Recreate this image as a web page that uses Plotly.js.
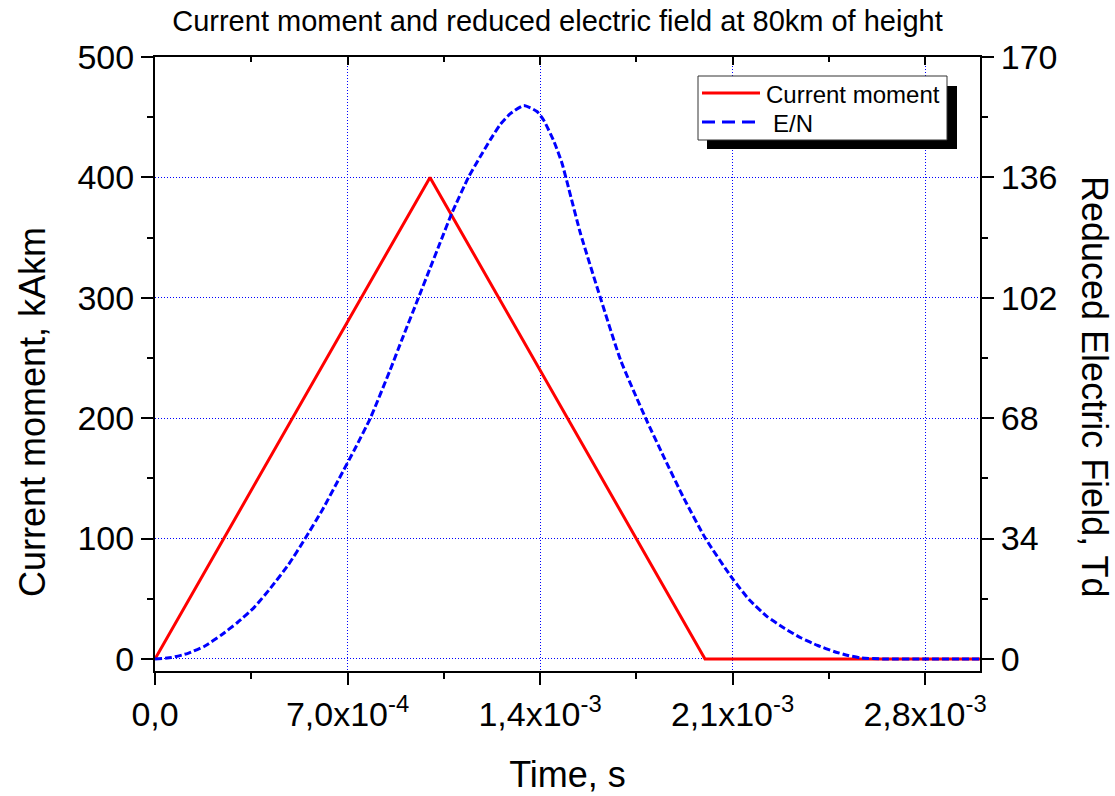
<!DOCTYPE html>
<html>
<head>
<meta charset="utf-8">
<script src="https://cdn.plot.ly/plotly-3.0.1.min.js"></script>
<style>html,body{margin:0;padding:0;background:#fff;}#chart{width:1115px;height:796px;}</style>
</head>
<body>
<div id="chart"></div>
<script>
// Current moment (kAkm) vs time (s)
const currentTime = [0, 1.0e-3, 2.0e-3, 3.0e-3];
const currentMoment = [0, 400, 0, 0];

// Reduced electric field E/N (Td) vs time (s)
const enTime = [0, 0.6e-4, 1.2e-4, 1.8e-4, 2.4e-4, 3.0e-4, 3.6e-4, 4.2e-4, 4.85e-4, 5.46e-4, 6.1e-4, 6.7e-4,
  7.3e-4, 7.83e-4, 8.55e-4, 9.0e-4, 9.58e-4, 1.0e-3, 1.037e-3, 1.08e-3, 1.141e-3, 1.183e-3, 1.219e-3, 1.256e-3,
  1.292e-3, 1.341e-3, 1.389e-3, 1.413e-3, 1.45e-3, 1.48e-3, 1.504e-3, 1.547e-3, 1.62e-3, 1.693e-3, 1.784e-3,
  1.85e-3, 1.923e-3, 2.002e-3, 2.099e-3, 2.16e-3, 2.227e-3, 2.29e-3, 2.348e-3, 2.41e-3, 2.469e-3, 2.52e-3, 2.566e-3,
  2.65e-3, 2.8e-3, 3.0e-3];
const enValues = [0, 0.4, 1.6, 3.6, 6.7, 10.3, 14.5, 20.0, 26.6, 34.0, 42.3, 51.0,
  59.8, 68.0, 81.6, 90.6, 102.0, 110.3, 117.6, 126.0, 136.2, 141.9, 146.6, 151.0,
  154.0, 156.3, 154.6, 152.2, 146.3, 140.0, 133.0, 120.2, 101.9, 84.4, 68.0,
  57.1, 45.4, 34.0, 22.8, 16.8, 11.9, 8.6, 6.0, 3.8, 2.1, 1.0, 0.3,
  0, 0, 0];

// Axis ticks
const xTickVals = [0, 7.0e-4, 1.4e-3, 2.1e-3, 2.8e-3];
const xTickText = ['0,0', '7,0x10<sup>-4</sup>', '1,4x10<sup>-3</sup>', '2,1x10<sup>-3</sup>', '2,8x10<sup>-3</sup>'];
const yLeftTicks = [0, 100, 200, 300, 400, 500];
const yRightTicks = [0, 34, 68, 102, 136, 170];

const seriesNames = ['Current moment', 'E/N'];

const FONT = 'Liberation Sans, Arial, sans-serif';

const traces = [
  {x: currentTime, y: currentMoment, type: 'scatter', mode: 'lines', name: seriesNames[0],
   line: {color: '#ff0000', width: 3}, xaxis: 'x', yaxis: 'y'},
  {x: enTime, y: enValues, type: 'scatter', mode: 'lines', name: seriesNames[1],
   line: {color: '#0000ff', width: 3, dash: '7px,3px', shape: 'spline', smoothing: 0.5}, xaxis: 'x', yaxis: 'y2'},
  {x: currentTime, y: currentMoment, type: 'scatter', mode: 'lines', showlegend: false, xaxis: 'x2', yaxis: 'y',
   line: {color: 'rgba(0,0,0,0)', width: 0}, hoverinfo: 'skip'}
];

const L = 155, R = 980, T = 57, B = 671, W = 1115, H = 796;
const px = v => (v - L) / (R - L);
const py = v => (B - v) / (B - T);

const gridCommon = {gridcolor: '#0000ff', gridwidth: 1, griddash: '1px,2px'};

const layout = {
  width: W, height: H,
  margin: {l: L, r: W - R, t: T, b: H - B, pad: 0},
  paper_bgcolor: '#ffffff', plot_bgcolor: '#ffffff',
  font: {family: FONT, color: '#000000', size: 34},
  showlegend: false,
  title: {text: 'Current moment and reduced electric field at 80km of height', font: {family: FONT, size: 29, color: '#000'},
          xref: 'container', x: 0.5, xanchor: 'center', yref: 'container', y: 0.974, yanchor: 'middle'},
  xaxis: Object.assign({
    range: [0, 3.0e-3], tickmode: 'array', tickvals: xTickVals, ticktext: xTickText,
    showgrid: true, zeroline: false, showline: true, linecolor: '#000', linewidth: 2,
    ticks: 'outside', ticklen: 12, tickwidth: 2, tickcolor: '#000',
    minor: {tickmode: 'linear', tick0: 0, dtick: 3.5e-4, ticks: 'outside', ticklen: 6, tickwidth: 2, tickcolor: '#000', showgrid: false},
    tickfont: {family: FONT, size: 34}, mirror: false, fixedrange: true,
    title: {text: 'Time, s', font: {family: FONT, size: 36}, standoff: 30}
  }, gridCommon),
  xaxis2: {
    overlaying: 'x', side: 'top', anchor: 'y', range: [0, 3.0e-3], tickmode: 'array', tickvals: xTickVals,
    showticklabels: false, showgrid: false, zeroline: false, showline: true, linecolor: '#000', linewidth: 2,
    ticks: 'inside', ticklen: 8, tickwidth: 2, tickcolor: '#000',
    minor: {tickmode: 'linear', tick0: 0, dtick: 3.5e-4, ticks: 'inside', ticklen: 5, tickwidth: 2, tickcolor: '#000', showgrid: false}
  },
  yaxis: Object.assign({
    range: [-10, 500], tickmode: 'array', tickvals: yLeftTicks,
    showgrid: true, zeroline: false, showline: true, linecolor: '#000', linewidth: 2,
    ticks: 'outside', ticklen: 12, tickwidth: 2, tickcolor: '#000',
    minor: {tickmode: 'linear', tick0: 0, dtick: 50, ticks: 'outside', ticklen: 6, tickwidth: 2, tickcolor: '#000', showgrid: false},
    tickfont: {family: FONT, size: 34}, fixedrange: true
  }, gridCommon),
  yaxis2: {
    overlaying: 'y', side: 'right', anchor: 'x', range: [-3.4, 170], tickmode: 'array', tickvals: yRightTicks,
    showgrid: false, zeroline: false, showline: true, linecolor: '#000', linewidth: 2,
    ticks: 'outside', ticklen: 12, tickwidth: 2, tickcolor: '#000',
    minor: {tickmode: 'linear', tick0: 0, dtick: 17, ticks: 'outside', ticklen: 6, tickwidth: 2, tickcolor: '#000', showgrid: false},
    tickfont: {family: FONT, size: 34}, fixedrange: true
  },
  shapes: [
    // legend shadow and box
    {type: 'rect', xref: 'paper', yref: 'paper', x0: px(707), x1: px(957), y0: py(149), y1: py(86),
     fillcolor: '#000', line: {width: 0}, layer: 'above'},
    {type: 'rect', xref: 'paper', yref: 'paper', x0: px(698), x1: px(947), y0: py(140), y1: py(76),
     fillcolor: '#fff', line: {width: 1, color: '#333'}, layer: 'above'},
    // legend samples
    {type: 'line', xref: 'paper', yref: 'paper', x0: px(702), x1: px(760), y0: py(93), y1: py(93),
     line: {color: '#ff0000', width: 3}, layer: 'above'},
    {type: 'line', xref: 'paper', yref: 'paper', x0: px(702), x1: px(760), y0: py(122), y1: py(122),
     line: {color: '#0000ff', width: 3, dash: '13px,7px'}, layer: 'above'}
  ],
  annotations: [
    {text: seriesNames[0], xref: 'paper', yref: 'paper', x: px(764), y: py(94), xanchor: 'left', yanchor: 'middle',
     showarrow: false, font: {family: FONT, size: 24, color: '#000'}},
    {text: seriesNames[1], xref: 'paper', yref: 'paper', x: px(771), y: py(123), xanchor: 'left', yanchor: 'middle',
     showarrow: false, font: {family: FONT, size: 24, color: '#000'}},
    {text: 'Current moment, kAkm', textangle: -90, xref: 'paper', yref: 'paper',
     x: px(32), y: py(412), xanchor: 'center', yanchor: 'middle', showarrow: false,
     font: {family: FONT, size: 36, color: '#000'}},
    {text: 'Reduced Electric Field, Td', textangle: 90, xref: 'paper', yref: 'paper',
     x: px(1095), y: py(387), xanchor: 'center', yanchor: 'middle', showarrow: false,
     font: {family: FONT, size: 36, color: '#000'}}
  ]
};

Plotly.newPlot('chart', traces, layout, {staticPlot: true, displayModeBar: false});
</script>
</body>
</html>
